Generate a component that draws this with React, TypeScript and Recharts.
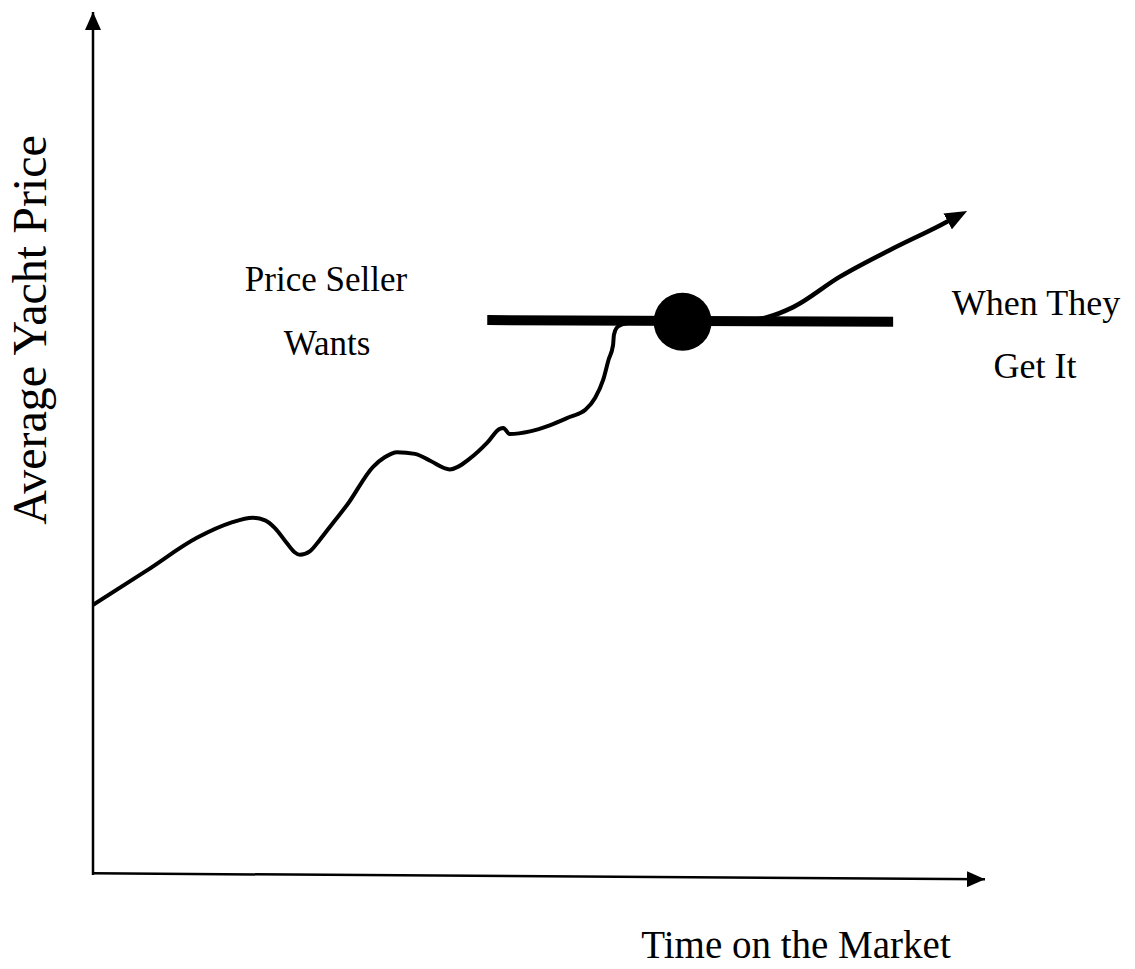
import { LineChart, Line, XAxis, YAxis, ReferenceLine, ReferenceDot } from 'recharts';

// time on market (0-100) vs average price (0-100)
const marketPath = [
  { t: 0, p: 31.3 },
  { t: 6.05, p: 35.3 },
  { t: 11.7, p: 39.1 },
  { t: 15.4, p: 40.8 },
  { t: 17.9, p: 41.4 },
  { t: 19.3, p: 41.1 },
  { t: 20.4, p: 40.2 },
  { t: 21.7, p: 38.5 },
  { t: 22.6, p: 37.4 },
  { t: 23.2, p: 37.1 },
  { t: 24.3, p: 37.5 },
  { t: 25.4, p: 38.8 },
  { t: 26.9, p: 40.8 },
  { t: 28.5, p: 42.9 },
  { t: 31.4, p: 47.3 },
  { t: 32.7, p: 48.4 },
  { t: 34.1, p: 49.0 },
  { t: 36.1, p: 48.8 },
  { t: 37.8, p: 48.0 },
  { t: 40.0, p: 47.0 },
  { t: 42.3, p: 48.3 },
  { t: 44.2, p: 50.1 },
  { t: 45.6, p: 51.7 },
  { t: 46.0, p: 51.8 },
  { t: 46.7, p: 51.1 },
  { t: 49.0, p: 51.4 },
  { t: 51.2, p: 52.1 },
  { t: 53.5, p: 53.1 },
  { t: 55.2, p: 53.9 },
  { t: 56.3, p: 55.3 },
  { t: 57.2, p: 57.4 },
  { t: 57.8, p: 59.7 },
  { t: 58.3, p: 61.4 },
  { t: 58.4, p: 62.6 },
  { t: 58.7, p: 63.4 },
  { t: 59.3, p: 63.8 },
  { t: 60.2, p: 64.0 },
];

const askingPrice = [
  { t: 44.2, p: 64.3 },
  { t: 89.7, p: 64.1 },
];

const afterSale = [
  { t: 73.1, p: 64.2 },
  { t: 75.5, p: 64.6 },
  { t: 78.5, p: 65.8 },
  { t: 83.7, p: 69.3 },
  { t: 89.3, p: 72.4 },
  { t: 95.0, p: 75.3 },
  { t: 97.2, p: 76.5 },
];

const saleMoment = { t: 66.1, p: 64.1 };

const W = 1135;
const H = 969;
const serif = '"Liberation Serif", "DejaVu Serif", "Times New Roman", serif';
const txt = { fontFamily: serif, fill: '#000' };

export default function App() {
  return (
    <div style={{ position: 'absolute', left: 0, top: 0, width: W, height: H, background: '#fff' }}>
      <LineChart width={W} height={H} margin={{ top: 12, right: 150, bottom: 94, left: 93 }}>
        <XAxis type="number" dataKey="t" domain={[0, 100]} hide allowDataOverflow />
        <YAxis type="number" domain={[0, 100]} hide allowDataOverflow />
        <ReferenceLine
          segment={[{ x: 0, y: 0 }, { x: 0, y: 100 }]}
          stroke="#000"
          strokeWidth={2.5}
          ifOverflow="visible"
          markerEnd="url(#axisHead)"
        />
        <ReferenceLine
          segment={[{ x: 0, y: 0.2 }, { x: 100, y: -0.5 }]}
          stroke="#000"
          strokeWidth={2.5}
          ifOverflow="visible"
          markerEnd="url(#axisHead)"
        />
        <Line
          data={askingPrice}
          dataKey="p"
          type="linear"
          stroke="#000"
          strokeWidth={10}
          dot={false}
          isAnimationActive={false}
        />
        <Line
          data={marketPath}
          dataKey="p"
          type="monotone"
          stroke="#000"
          strokeWidth={4}
          strokeLinejoin="round"
          dot={false}
          isAnimationActive={false}
        />
        <Line
          data={afterSale}
          dataKey="p"
          type="monotone"
          stroke="#000"
          strokeWidth={4.5}
          dot={false}
          markerEnd="url(#trendHead)"
          isAnimationActive={false}
        />
        <ReferenceDot x={saleMoment.t} y={saleMoment.p} r={29} fill="#000" stroke="none" />
      </LineChart>
      <svg
        width={W}
        height={H}
        style={{ position: 'absolute', left: 0, top: 0, pointerEvents: 'none' }}
      >
        <defs>
          <marker id="axisHead" markerUnits="userSpaceOnUse" markerWidth={18} markerHeight={16} refX={18} refY={8} orient="auto">
            <path d="M0,0 L18,8 L0,16 z" fill="#000" />
          </marker>
          <marker id="trendHead" markerUnits="userSpaceOnUse" markerWidth={22} markerHeight={18} refX={14} refY={9} orient="auto">
            <path d="M0,0 L22,9 L0,18 z" fill="#000" />
          </marker>
        </defs>
        <text x={326} y={291} fontSize={35} textAnchor="middle" style={txt}>Price Seller</text>
        <text x={327} y={355} fontSize={35} textAnchor="middle" style={txt}>Wants</text>
        <text x={1036} y={315} fontSize={36} textAnchor="middle" style={txt}>When They</text>
        <text x={1035} y={378} fontSize={36} textAnchor="middle" style={txt}>Get It</text>
        <text x={796} y={958} fontSize={39} textAnchor="middle" style={txt}>Time on the Market</text>
        <text x={46} y={330} fontSize={48} textAnchor="middle" transform="rotate(-90 46 330)" style={txt}>Average Yacht Price</text>
      </svg>
    </div>
  );
}
